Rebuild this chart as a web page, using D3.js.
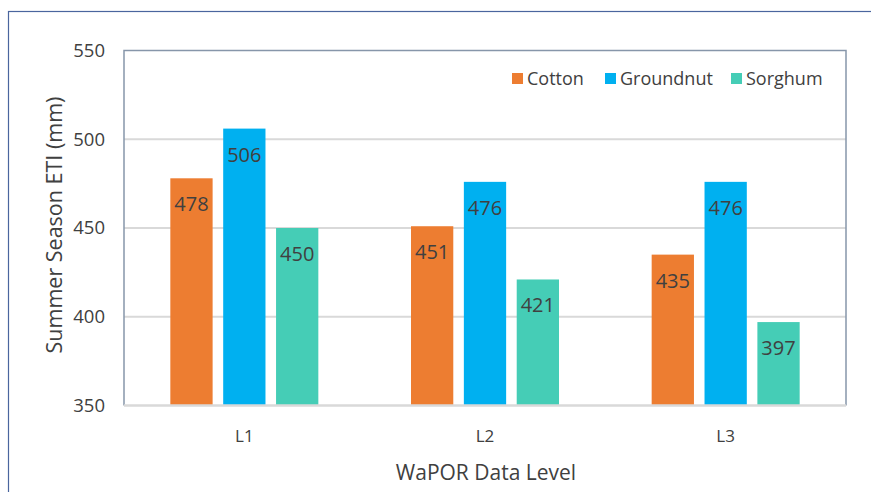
<!DOCTYPE html>
<html>
<head>
<meta charset="utf-8">
<script src="https://cdn.jsdelivr.net/npm/d3@7"></script>
<style>
  html, body { margin: 0; padding: 0; background: #fff; }
  svg { display: block; }
  text { font-family: "Open Sans", "DejaVu Sans", sans-serif; fill: #404040; }
</style>
</head>
<body>
<svg id="chart" width="871" height="492"></svg>
<script>
// Summer season ETI by WaPOR data level and crop
const levels = ["L1", "L2", "L3"];
const crops = ["Cotton", "Groundnut", "Sorghum"];
const cotton = [478, 451, 435];
const groundnut = [506, 476, 476];
const sorghum = [450, 421, 397];
const yTicks = [350, 400, 450, 500, 550];
const colors = ["#ED7D31", "#00B0F0", "#45CDB6"];

const seriesValues = [cotton, groundnut, sorghum];
const rows = levels.map((lv, i) => ({
  level: lv,
  values: crops.map((c, j) => ({ crop: c, value: seriesValues[j][i] }))
}));

const svg = d3.select("#chart");
const plot = { left: 124, top: 50.5, right: 846, bottom: 405.5 };

// outer chart frame
svg.append("rect")
  .attr("x", 8.5).attr("y", 11.5)
  .attr("width", 900).attr("height", 600)
  .attr("fill", "none").attr("stroke", "#4A659E").attr("stroke-width", 1.2);

const x0 = d3.scaleBand().domain(levels).range([plot.left, plot.right]).padding(0);
const y = d3.scaleLinear().domain([350, 550]).range([plot.bottom, plot.top]);
const groupW = 148;
const x1 = d3.scaleBand().domain(crops).range([0, groupW]).paddingInner(0.2).paddingOuter(0);
const color = d3.scaleOrdinal().domain(crops).range(colors);

// horizontal gridlines
svg.append("g")
  .selectAll("line")
  .data(yTicks.filter(t => t !== 350 && t !== 550))
  .join("line")
  .attr("x1", plot.left).attr("x2", plot.right)
  .attr("y1", d => y(d)).attr("y2", d => y(d))
  .attr("stroke", "#D9D9D9").attr("stroke-width", 2);

// plot area border (left, top, right)
svg.append("path")
  .attr("d", `M${plot.left},${plot.bottom}V${plot.top}H${plot.right}V${plot.bottom}`)
  .attr("fill", "none").attr("stroke", "#8796AA").attr("stroke-width", 1.5);

// y axis tick labels
const yAxis = d3.axisLeft(y).tickValues(yTicks).tickSize(0).tickPadding(19);
const gy = svg.append("g").attr("transform", `translate(${plot.left},0)`).call(yAxis);
gy.select(".domain").remove();
gy.selectAll("text")
  .style("font-family", "'Open Sans', sans-serif")
  .style("font-size", "18.5px")
  .attr("fill", "#404040");

// bars
const groups = svg.append("g")
  .selectAll("g")
  .data(rows)
  .join("g")
  .attr("transform", d => `translate(${x0(d.level) + x0.bandwidth() / 2 - groupW / 2},0)`);

groups.selectAll("rect")
  .data(d => d.values)
  .join("rect")
  .attr("x", d => x1(d.crop))
  .attr("width", x1.bandwidth())
  .attr("y", d => y(d.value))
  .attr("height", d => y(350) - y(d.value))
  .attr("fill", d => color(d.crop));

// value labels inside the bars
groups.selectAll("text")
  .data(d => d.values)
  .join("text")
  .attr("x", d => x1(d.crop) + x1.bandwidth() / 2)
  .attr("y", d => y(d.value) + 33)
  .attr("text-anchor", "middle")
  .style("font-size", "20px")
  .attr("fill", "#404040")
  .text(d => d.value);

// x axis baseline
svg.append("line")
  .attr("x1", plot.left).attr("x2", plot.right)
  .attr("y1", plot.bottom).attr("y2", plot.bottom)
  .attr("stroke", "#D9D9D9").attr("stroke-width", 2.5);

// x axis category labels
const xAxis = d3.axisBottom(x0).tickSize(0).tickPadding(24);
const gx = svg.append("g").attr("transform", `translate(0,${plot.bottom})`).call(xAxis);
gx.select(".domain").remove();
gx.selectAll("text")
  .style("font-family", "'Open Sans', sans-serif")
  .style("font-size", "17px")
  .attr("fill", "#595959");

// axis titles
svg.append("text")
  .attr("x", 486).attr("y", 480)
  .attr("text-anchor", "middle")
  .style("font-size", "21px")
  .attr("fill", "#111")
  .text("WaPOR Data Level");

svg.append("text")
  .attr("transform", "translate(62,225) rotate(-90)")
  .attr("text-anchor", "middle")
  .style("font-size", "21.5px")
  .attr("fill", "#111")
  .text("Summer Season ETI (mm)");

// legend
const legendX = [512, 605, 731];
const legend = svg.append("g")
  .selectAll("g")
  .data(crops)
  .join("g")
  .attr("transform", (d, i) => `translate(${legendX[i]},73)`);
legend.append("rect")
  .attr("width", 11).attr("height", 11)
  .attr("fill", d => color(d));
legend.append("text")
  .attr("x", 15).attr("y", 11.5)
  .style("font-size", "18px")
  .attr("fill", "#595959")
  .text(d => d);
</script>
</body>
</html>
